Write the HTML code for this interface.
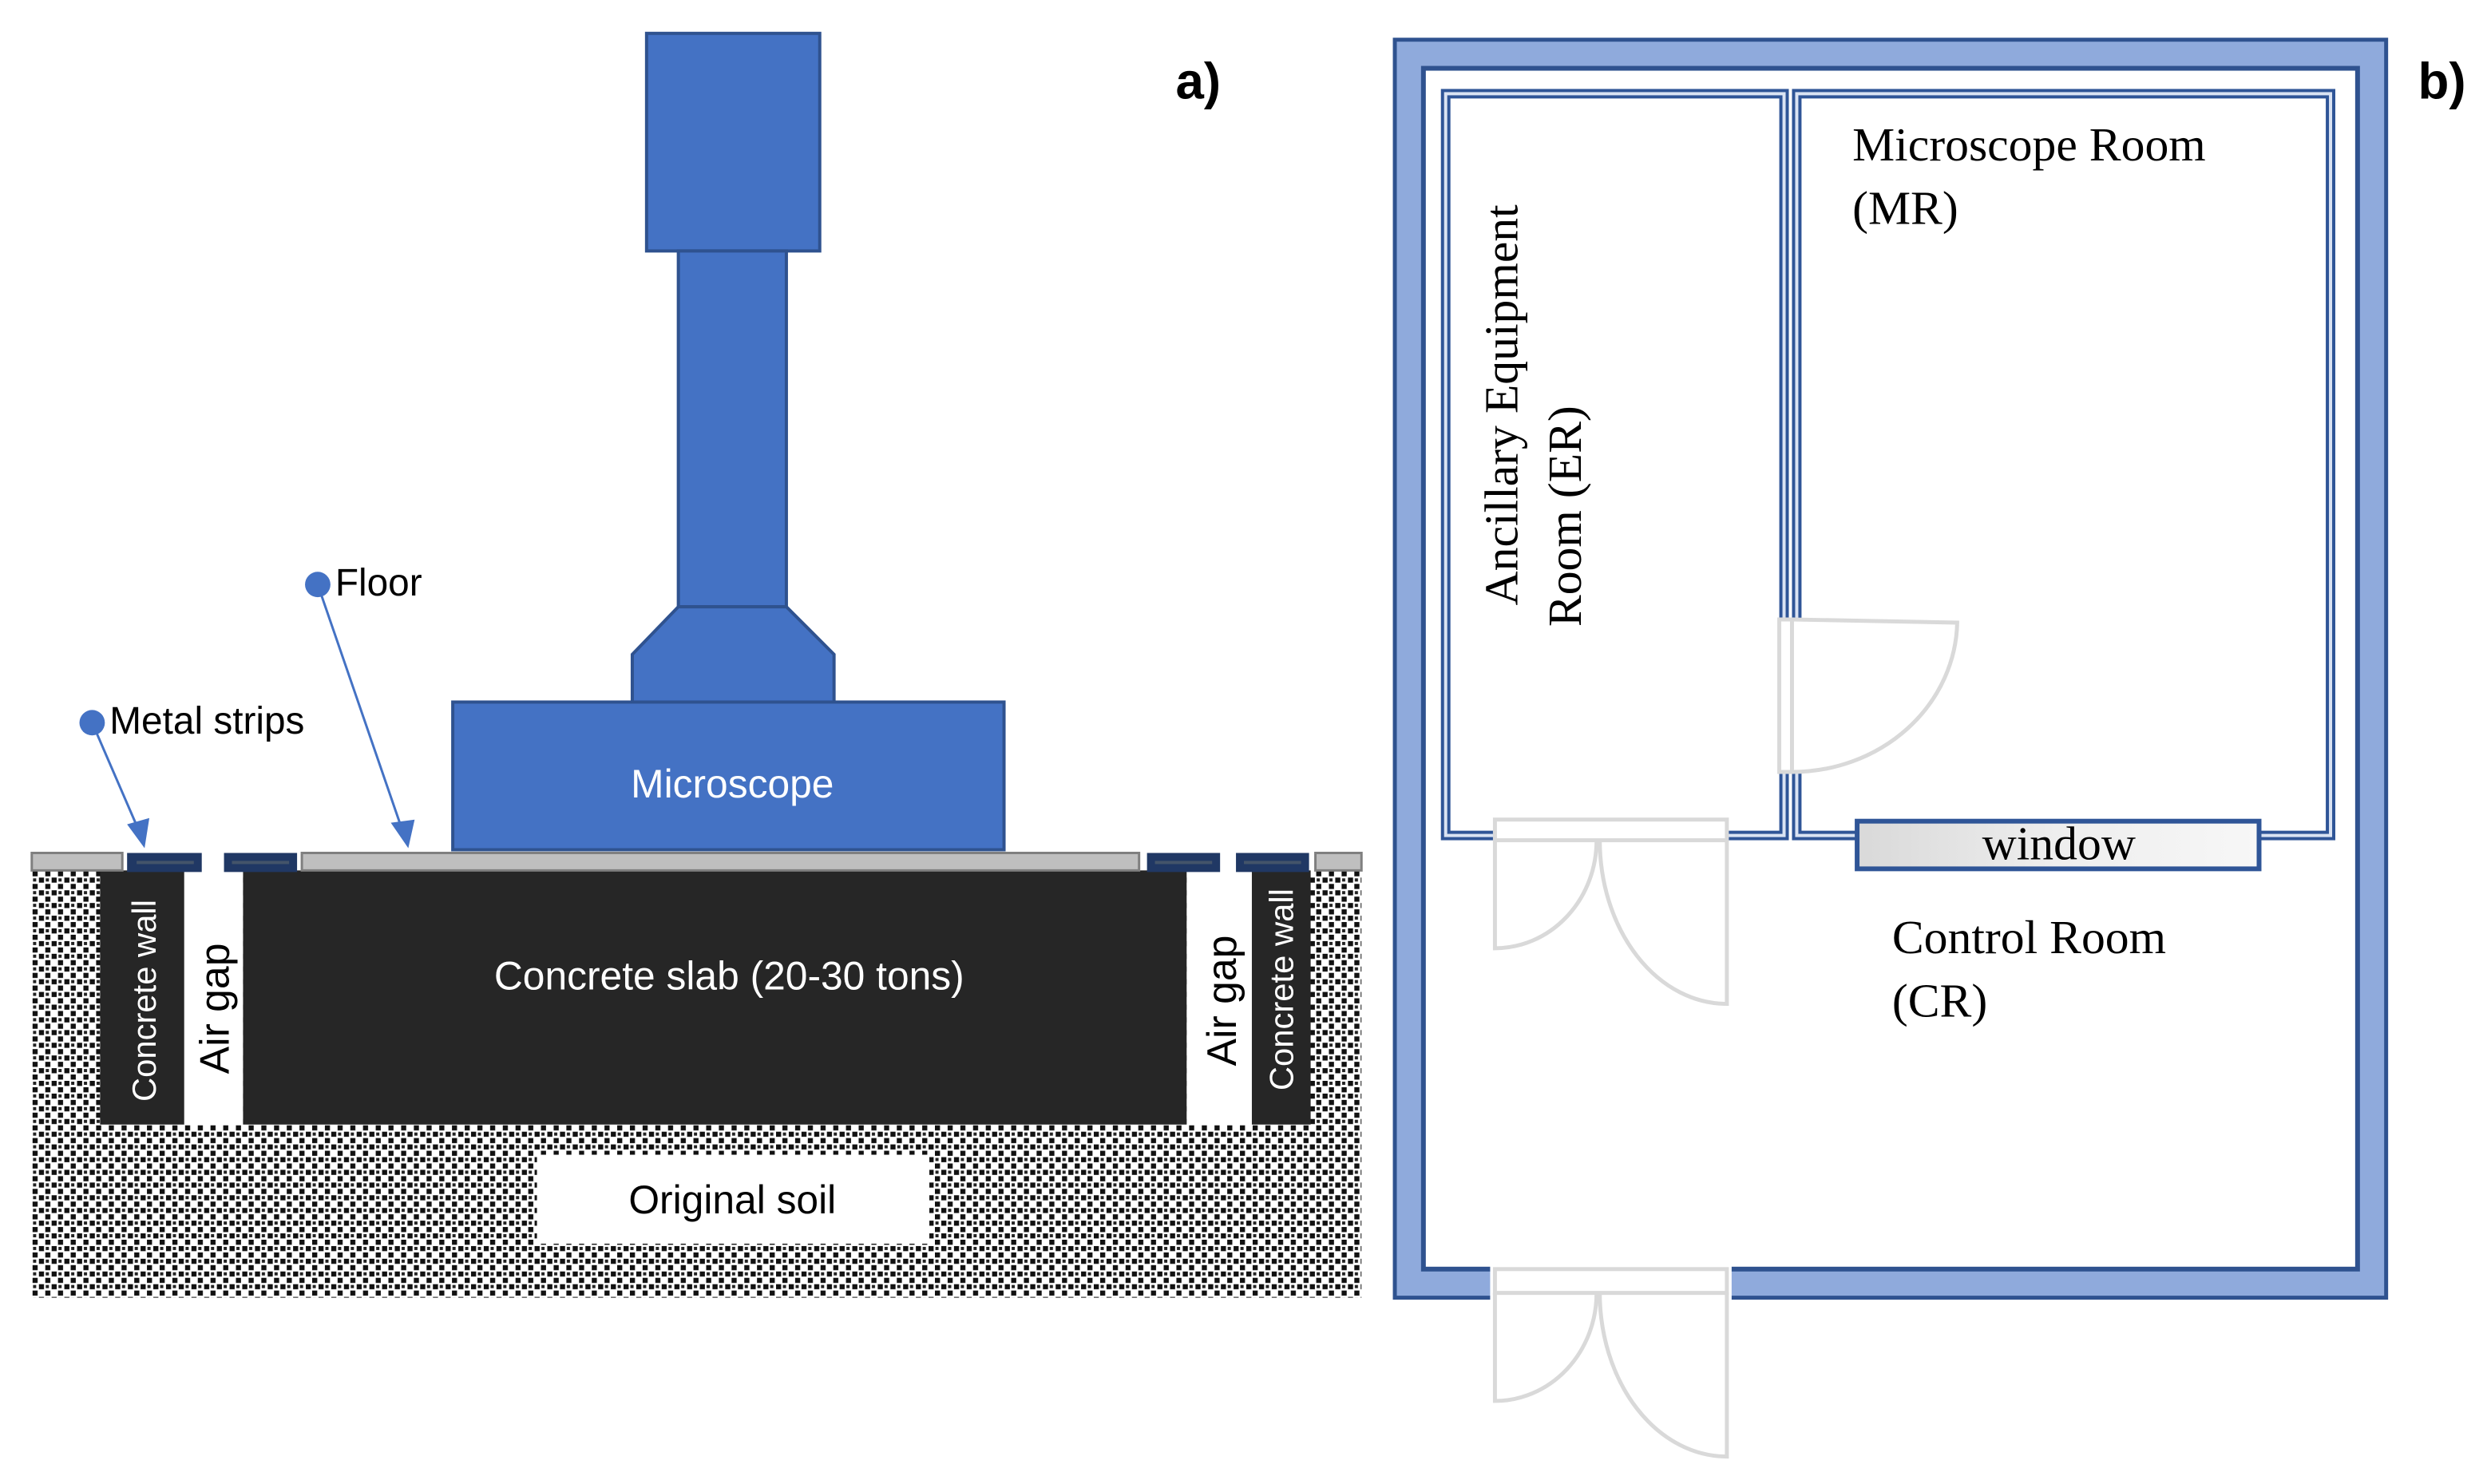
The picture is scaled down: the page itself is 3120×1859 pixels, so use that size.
<!DOCTYPE html>
<html><head><meta charset="utf-8"><style>
html,body{margin:0;padding:0;background:#fff;}
svg{display:block;}
</style></head><body>
<svg width="3120" height="1859" viewBox="0 0 1568 934.3" preserveAspectRatio="none" xmlns="http://www.w3.org/2000/svg">
<defs>
<pattern id="soil" width="8" height="8" patternUnits="userSpaceOnUse">
<rect width="8" height="8" fill="#fff"/>
<rect x="0.5" y="0.5" width="3.2" height="3.2" fill="#111"/>
<rect x="4.5" y="4.5" width="3.2" height="3.2" fill="#111"/>
<rect x="4.8" y="1" width="2" height="2" fill="#222"/>
</pattern>
<linearGradient id="win" x1="0" x2="1" y1="0" y2="0">
<stop offset="0" stop-color="#d9d9d9"/><stop offset="0.5" stop-color="#eeeeee"/><stop offset="1" stop-color="#f7f7f7"/>
</linearGradient>
</defs>

<!-- Panel a -->
<rect x="20" y="548" width="837" height="269" fill="url(#soil)"/>
<rect x="63" y="548" width="53" height="160" fill="#262626"/>
<rect x="116" y="548" width="37" height="160" fill="#fff"/>
<rect x="153" y="548" width="594" height="160" fill="#262626"/>
<rect x="747" y="548" width="41" height="160" fill="#fff"/>
<rect x="788" y="548" width="37" height="160" fill="#262626"/>
<rect x="338" y="727" width="247" height="56" fill="#fff"/>

<g stroke="#7f7f7f" stroke-width="1.5" fill="#bfbfbf">
<rect x="20" y="537" width="57" height="11"/>
<rect x="190" y="537" width="527" height="11"/>
<rect x="828" y="537" width="29" height="11"/>
</g>
<g fill="#203864">
<rect x="80" y="537" width="47" height="12"/>
<rect x="141" y="537" width="46" height="12"/>
<rect x="722" y="537" width="46" height="12"/>
<rect x="778" y="537" width="46" height="12"/>
</g>
<g fill="#44546a">
<rect x="86" y="542" width="36" height="2"/>
<rect x="146" y="542" width="36" height="2"/>
<rect x="727" y="542" width="36" height="2"/>
<rect x="783" y="542" width="36" height="2"/>
</g>

<g fill="#4472C4" stroke="#2F528F" stroke-width="2">
<rect x="407" y="21" width="109" height="137"/>
<rect x="427" y="158" width="68" height="224"/>
<polygon points="427,382 495,382 525,412 525,442 398,442 398,412"/>
<rect x="285" y="442" width="347" height="93"/>
</g>
<text x="461" y="502" font-family="Liberation Sans, sans-serif" font-size="25" fill="#fff" text-anchor="middle">Microscope</text>

<text x="459" y="623" font-family="Liberation Sans, sans-serif" font-size="25" fill="#fff" text-anchor="middle">Concrete slab (20-30 tons)</text>
<text x="461" y="764" font-family="Liberation Sans, sans-serif" font-size="25" fill="#000" text-anchor="middle">Original soil</text>
<text transform="translate(98,630) rotate(-90)" font-family="Liberation Sans, sans-serif" font-size="21" fill="#fff" text-anchor="middle">Concrete  wall</text>
<text transform="translate(144,635) rotate(-90)" font-family="Liberation Sans, sans-serif" font-size="26" fill="#000" text-anchor="middle">Air gap</text>
<text transform="translate(778,630) rotate(-90)" font-family="Liberation Sans, sans-serif" font-size="26" fill="#000" text-anchor="middle">Air gap</text>
<text transform="translate(814,623) rotate(-90)" font-family="Liberation Sans, sans-serif" font-size="21" fill="#fff" text-anchor="middle">Concrete  wall</text>

<g stroke="#4472C4" stroke-width="1.5" fill="#4472C4">
<line x1="200" y1="368" x2="253" y2="522"/>
<polygon points="246,518 261,516 257,534" stroke="none"/>
<circle cx="200" cy="368" r="8" stroke="none"/>
<line x1="58" y1="455" x2="87" y2="522"/>
<polygon points="80,519 94,515 91,534" stroke="none"/>
<circle cx="58" cy="455" r="8" stroke="none"/>
</g>
<text x="211" y="375" font-family="Liberation Sans, sans-serif" font-size="24" fill="#000">Floor</text>
<text x="69" y="462" font-family="Liberation Sans, sans-serif" font-size="24" fill="#000">Metal strips</text>
<text x="740" y="62" font-family="Liberation Sans, sans-serif" font-size="32" font-weight="bold" fill="#000">a)</text>

<!-- Panel b -->
<rect x="878" y="25" width="624" height="792" fill="#8FAADC" stroke="#2F528F" stroke-width="2.5"/>
<rect x="896" y="43" width="588" height="756" fill="#fff" stroke="#2F528F" stroke-width="3"/>

<g fill="none">
<rect x="910" y="59" width="213" height="467" stroke="#2F5597" stroke-width="6"/>
<rect x="910" y="59" width="213" height="467" stroke="#DAE3F3" stroke-width="2"/>
<rect x="1131" y="59" width="336" height="467" stroke="#2F5597" stroke-width="6"/>
<rect x="1131" y="59" width="336" height="467" stroke="#DAE3F3" stroke-width="2"/>
</g>

<rect x="1118" y="389" width="18" height="97" fill="#fff"/>
<g fill="none" stroke="#d9d9d9" stroke-width="2.5">
<rect x="1120" y="390" width="8" height="96"/>
<path d="M1128,390 L1232,392 A104,96 0 0 1 1128,486"/>
</g>

<rect x="940" y="515" width="148" height="14" fill="#fff"/>
<g fill="none" stroke="#d9d9d9" stroke-width="2.5">
<rect x="941" y="516" width="146" height="13"/>
<path d="M941,529 L941,597 A64,68 0 0 0 1005,529"/>
<path d="M1087,529 L1087,632 A80,103 0 0 1 1007,529"/>
</g>

<rect x="938" y="797" width="152" height="22" fill="#fff"/>
<g fill="none" stroke="#d9d9d9" stroke-width="2.5">
<rect x="941" y="799" width="146" height="15"/>
<path d="M941,814 L941,882 A64,68 0 0 0 1005,814"/>
<path d="M1087,814 L1087,917 A80,103 0 0 1 1007,814"/>
</g>

<rect x="1169" y="517" width="253" height="30" fill="url(#win)" stroke="#2F5597" stroke-width="3"/>
<text x="1296" y="541" font-family="Liberation Serif, serif" font-size="30" fill="#000" text-anchor="middle">window</text>

<g font-family="Liberation Serif, serif" font-size="30" fill="#000">
<text x="1166" y="101">Microscope Room</text>
<text x="1166" y="141">(MR)</text>
<text x="1191" y="600">Control Room</text>
<text x="1191" y="640">(CR)</text>
<text transform="translate(955,255) rotate(-90)" text-anchor="middle">Ancillary Equipment</text>
<text transform="translate(995,325) rotate(-90)" text-anchor="middle">Room (ER)</text>
</g>
<text x="1522" y="62" font-family="Liberation Sans, sans-serif" font-size="32" font-weight="bold" fill="#000">b)</text>
</svg>
</body></html>
